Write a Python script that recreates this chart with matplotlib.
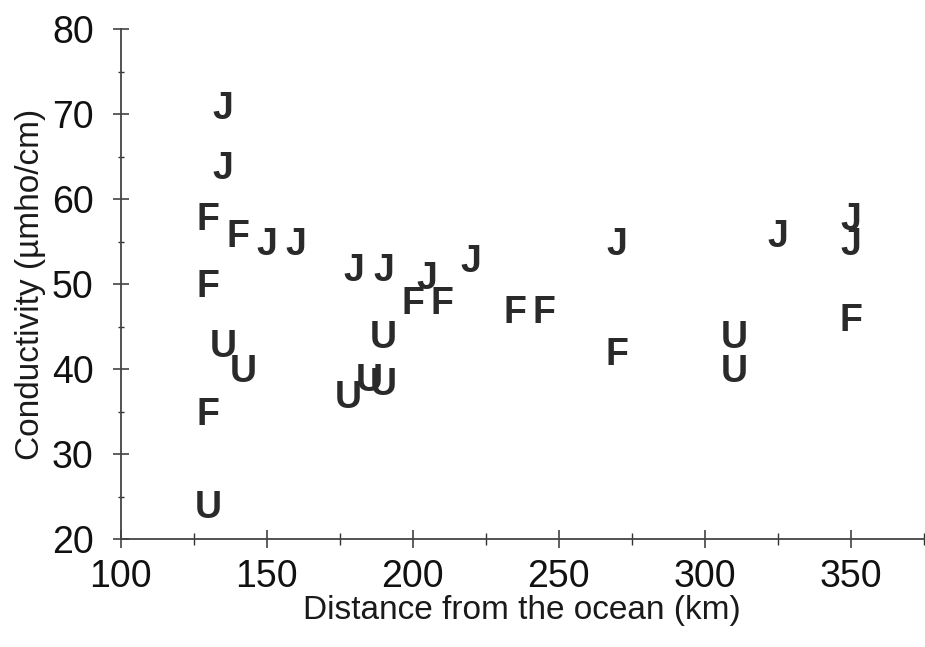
import matplotlib
matplotlib.use("Agg")
import matplotlib.pyplot as plt
from matplotlib.ticker import MultipleLocator

plt.rcParams['font.family'] = ['Liberation Sans', 'DejaVu Sans']

# J, F and U samples: distance (km) and conductivity (umho/cm)
j_dist = [135, 135, 150, 160, 180, 190, 205, 220, 270, 325, 350, 350]
j_cond = [71, 64, 55, 55, 52, 52, 51, 53, 55, 56, 58, 55]

f_dist = [130, 140, 130, 130, 200, 210, 235, 245, 270, 350]
f_cond = [58, 56, 50, 35, 48, 48, 47, 47, 42, 46]

u_dist = [135, 142, 130, 190, 178, 185, 190, 310, 310]
u_cond = [43, 40, 24, 44, 37, 39, 38.5, 44, 40]

series = [("J", j_dist, j_cond), ("F", f_dist, f_cond), ("U", u_dist, u_cond)]

fig = plt.figure(figsize=(9.25, 6.47), dpi=100)
ax = fig.add_axes([0.1305, 0.1669, 0.868, 0.7878])

ink = "#2a2a2a"
for letter, xs, ys in series:
    for x, y in zip(xs, ys):
        # letter drawn on its baseline, shifted down by half the cap height
        ax.annotate(letter, (x, y), xytext=(0, -9.6), textcoords="offset points",
                    ha="center", va="baseline", fontsize=27, fontweight="bold",
                    color=ink)

ax.set_xlim(100, 375)
ax.set_ylim(20, 80)
ax.xaxis.set_major_locator(MultipleLocator(50))
ax.xaxis.set_minor_locator(MultipleLocator(25))
ax.yaxis.set_major_locator(MultipleLocator(10))
ax.yaxis.set_minor_locator(MultipleLocator(5))

for s in ["top", "right"]:
    ax.spines[s].set_visible(False)
for s in ["left", "bottom"]:
    ax.spines[s].set_color("#444444")
    ax.spines[s].set_linewidth(1.3)

ax.tick_params(axis="x", which="major", direction="inout", length=13, width=1.1,
               color="#333333", labelsize=27, pad=8, labelcolor="#111111")
ax.tick_params(axis="x", which="minor", direction="inout", length=8, width=1.0,
               color="#333333")
ax.tick_params(axis="y", which="major", direction="inout", length=11, width=1.1,
               color="#333333", labelsize=27, pad=14, labelcolor="#111111")
ax.tick_params(axis="y", which="minor", direction="inout", length=5, width=1.0,
               color="#333333")

ax.set_xlabel("Distance from the ocean (km)", fontsize=24, color="#1a1a1a", labelpad=0)
ax.set_ylabel("Conductivity (µmho/cm)", fontsize=24, color="#1a1a1a", labelpad=4)

fig.savefig("out.png", dpi=100)
